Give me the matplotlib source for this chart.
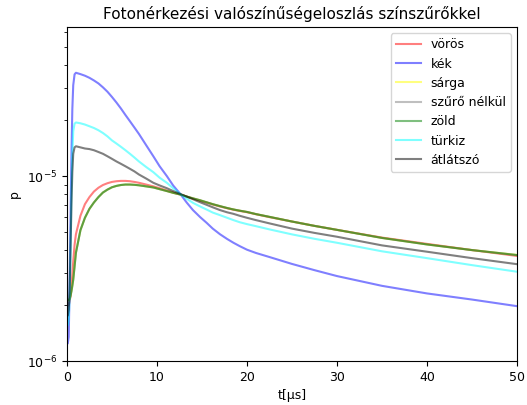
import matplotlib.pyplot as plt
import numpy as np

plt.rcParams["font.size"] = 9

# arrival time [us]
t = [0.1, 0.2, 0.3, 0.4, 0.5, 0.6, 0.7, 0.85, 1.0, 1.5, 2, 2.5, 3, 3.5, 4, 4.5, 5,
     5.5, 6, 6.5, 7, 7.5, 8, 8.8, 9.6, 10.3, 11.1, 11.8, 12.6, 13.3, 14, 14.8, 15.5,
     16.2, 17, 17.8, 18.5, 19.2, 20, 21, 22.5, 25, 27.5, 30, 35, 40, 45, 50]

# probabilities, in units of 1e-6
voros = [2.0, 2.0, 2.1, 2.25, 2.55, 2.95, 3.45, 4.25, 4.85, 6.1, 7.05, 7.7, 8.25,
         8.65, 8.95, 9.15, 9.3, 9.38, 9.42, 9.42, 9.38, 9.3, 9.2, 9.0, 8.8, 8.6, 8.35,
         8.15, 7.95, 7.75, 7.55, 7.35, 7.2, 7.02, 6.85, 6.7, 6.58, 6.48, 6.38, 6.22,
         6.0, 5.68, 5.38, 5.12, 4.65, 4.3, 3.98, 3.7]
kek = [1.25, 1.35, 2.6, 6.0, 13, 23, 31, 35.5, 36.2, 35.6, 34.9, 34.0, 32.9, 31.7,
       30.2, 28.6, 26.8, 25.0, 23.2, 21.4, 19.8, 18.3, 16.9, 14.7, 12.8, 11.3, 10.0,
       8.9, 8.0, 7.2, 6.55, 6.0, 5.6, 5.2, 4.85, 4.57, 4.36, 4.18, 4.0, 3.84, 3.65,
       3.35, 3.1, 2.88, 2.55, 2.32, 2.15, 1.98]
sarga = [2.12, 2.13, 2.16, 2.26, 2.4, 2.58, 2.78, 3.28, 3.87, 5.1, 5.95, 6.65, 7.2,
         7.7, 8.15, 8.45, 8.7, 8.85, 8.95, 9.0, 9.0, 8.97, 8.92, 8.8, 8.68, 8.5, 8.3,
         8.12, 7.95, 7.75, 7.58, 7.4, 7.22, 7.05, 6.88, 6.72, 6.6, 6.5, 6.4, 6.23,
         6.02, 5.68, 5.38, 5.12, 4.63, 4.27, 3.98, 3.75]
szuro_nelkul = [2.14, 2.14, 2.16, 2.25, 2.38, 2.55, 2.75, 3.25, 3.85, 5.1, 5.95, 6.65,
                7.2, 7.7, 8.15, 8.45, 8.7, 8.85, 8.95, 9.0, 9.0, 8.97, 8.92, 8.8, 8.68,
                8.5, 8.3, 8.12, 7.95, 7.75, 7.58, 7.4, 7.22, 7.05, 6.88, 6.72, 6.6,
                6.5, 6.4, 6.23, 6.02, 5.68, 5.38, 5.12, 4.63, 4.27, 3.98, 3.74]
zold = [2.14, 2.14, 2.16, 2.25, 2.38, 2.55, 2.75, 3.25, 3.85, 5.1, 5.95, 6.65, 7.2,
        7.7, 8.15, 8.45, 8.7, 8.85, 8.95, 9.0, 9.0, 8.97, 8.92, 8.8, 8.68, 8.5, 8.3,
        8.12, 7.95, 7.75, 7.58, 7.4, 7.22, 7.05, 6.88, 6.72, 6.6, 6.5, 6.4, 6.23,
        6.02, 5.68, 5.38, 5.12, 4.63, 4.27, 3.98, 3.74]
turkiz = [1.57, 1.7, 2.2, 4.0, 8.0, 13, 17.5, 19.2, 19.5, 19.3, 19.0, 18.6, 18.2,
          17.7, 17.1, 16.4, 15.6, 15.0, 14.4, 13.8, 13.2, 12.6, 12.0, 11.2, 10.5, 9.8,
          9.2, 8.6, 8.0, 7.55, 7.17, 6.85, 6.6, 6.35, 6.15, 5.95, 5.78, 5.63, 5.5,
          5.36, 5.15, 4.84, 4.58, 4.36, 3.92, 3.6, 3.3, 3.04]
atlatszo = [1.77, 1.9, 2.4, 4.0, 7.0, 10.5, 13.2, 14.3, 14.5, 14.3, 14.1, 14.0, 13.8,
            13.5, 13.2, 12.8, 12.4, 12.0, 11.65, 11.3, 10.95, 10.6, 10.2, 9.7, 9.2,
            8.9, 8.6, 8.3, 8.0, 7.75, 7.5, 7.22, 7.0, 6.78, 6.55, 6.37, 6.25, 6.1,
            5.95, 5.78, 5.55, 5.2, 4.93, 4.7, 4.22, 3.9, 3.6, 3.34]

series = [
    ("vörös", voros, "red"),
    ("kék", kek, "blue"),
    ("sárga", sarga, "yellow"),
    ("szűrő nélkül", szuro_nelkul, "gray"),
    ("zöld", zold, "green"),
    ("türkiz", turkiz, "cyan"),
    ("átlátszó", atlatszo, "black"),
]

fig = plt.figure(figsize=(5.27, 4.05), dpi=100)
ax = fig.add_axes([0.127, 0.1086, 0.854, 0.8247])

for label, values, color in series:
    ax.plot(t, np.array(values) * 1e-6, color=color, alpha=0.5, label=label)

ax.set_yscale("log")
ax.set_xlim(0, 50)
ax.set_ylim(1e-6, 6.4e-5)
ax.set_xlabel("t[μs]")
ax.set_ylabel("p")
ax.set_title("Fotonérkezési valószínűségeloszlás színszűrőkkel", fontsize=11)
ax.legend(loc="upper right")

fig.savefig("out.png", dpi=100)
plt.close(fig)
